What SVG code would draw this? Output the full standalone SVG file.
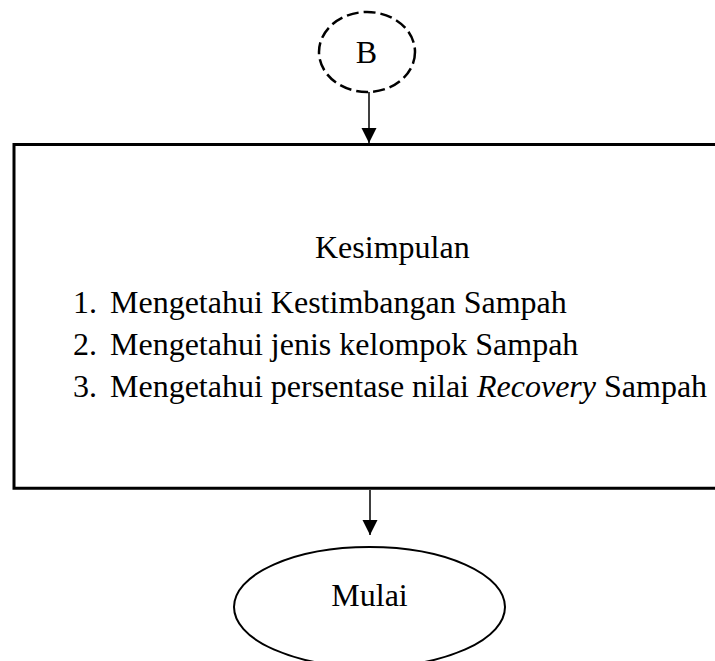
<svg xmlns="http://www.w3.org/2000/svg" width="715" height="661" viewBox="0 0 715 661">
<style>
  .t { font-family: "Liberation Serif", "Times New Roman", serif; font-size: 32px; fill: #000; }
  .shape { fill: #fff; stroke: #000; }
  .conn { stroke: #000; stroke-width: 1.5; fill: none; }
</style>
<defs>
  <marker id="arr" markerWidth="16" markerHeight="16" refX="15" refY="7.5" orient="auto" markerUnits="userSpaceOnUse">
    <path d="M0,0 L15,7.5 L0,15 Z" fill="#000"/>
  </marker>
</defs>
<rect width="715" height="661" fill="#fff"/>
<g id="connectors">
  <line class="conn" x1="369" y1="92" x2="369" y2="143" marker-end="url(#arr)"/>
  <line class="conn" x1="370" y1="490" x2="370" y2="535" marker-end="url(#arr)"/>
</g>
<g id="nodeB">
  <ellipse class="shape" cx="367" cy="52" rx="48" ry="40" stroke-width="2.5" stroke-dasharray="12 5"/>
  <text class="t" x="366.5" y="63" text-anchor="middle">B</text>
</g>
<g id="kesimpulan">
  <path d="M720,144.5 L14,144.5 L14,488.3 L720,488.3" fill="#fff" stroke="#000" stroke-width="3"/>
  <text class="t" x="315" y="258">Kesimpulan</text>
  <text class="t" x="73" y="313">1.</text>
  <text class="t" x="110" y="313">Mengetahui Kestimbangan Sampah</text>
  <text class="t" x="73" y="355">2.</text>
  <text class="t" x="110" y="355">Mengetahui jenis kelompok Sampah</text>
  <text class="t" x="73" y="397">3.</text>
  <text class="t" x="110" y="397">Mengetahui persentase nilai <tspan font-style="italic">Recovery</tspan> Sampah</text>
</g>
<g id="mulai">
  <ellipse class="shape" cx="369.5" cy="607" rx="135.5" ry="60" stroke-width="2"/>
  <text class="t" x="369.5" y="606" text-anchor="middle">Mulai</text>
</g>
</svg>
